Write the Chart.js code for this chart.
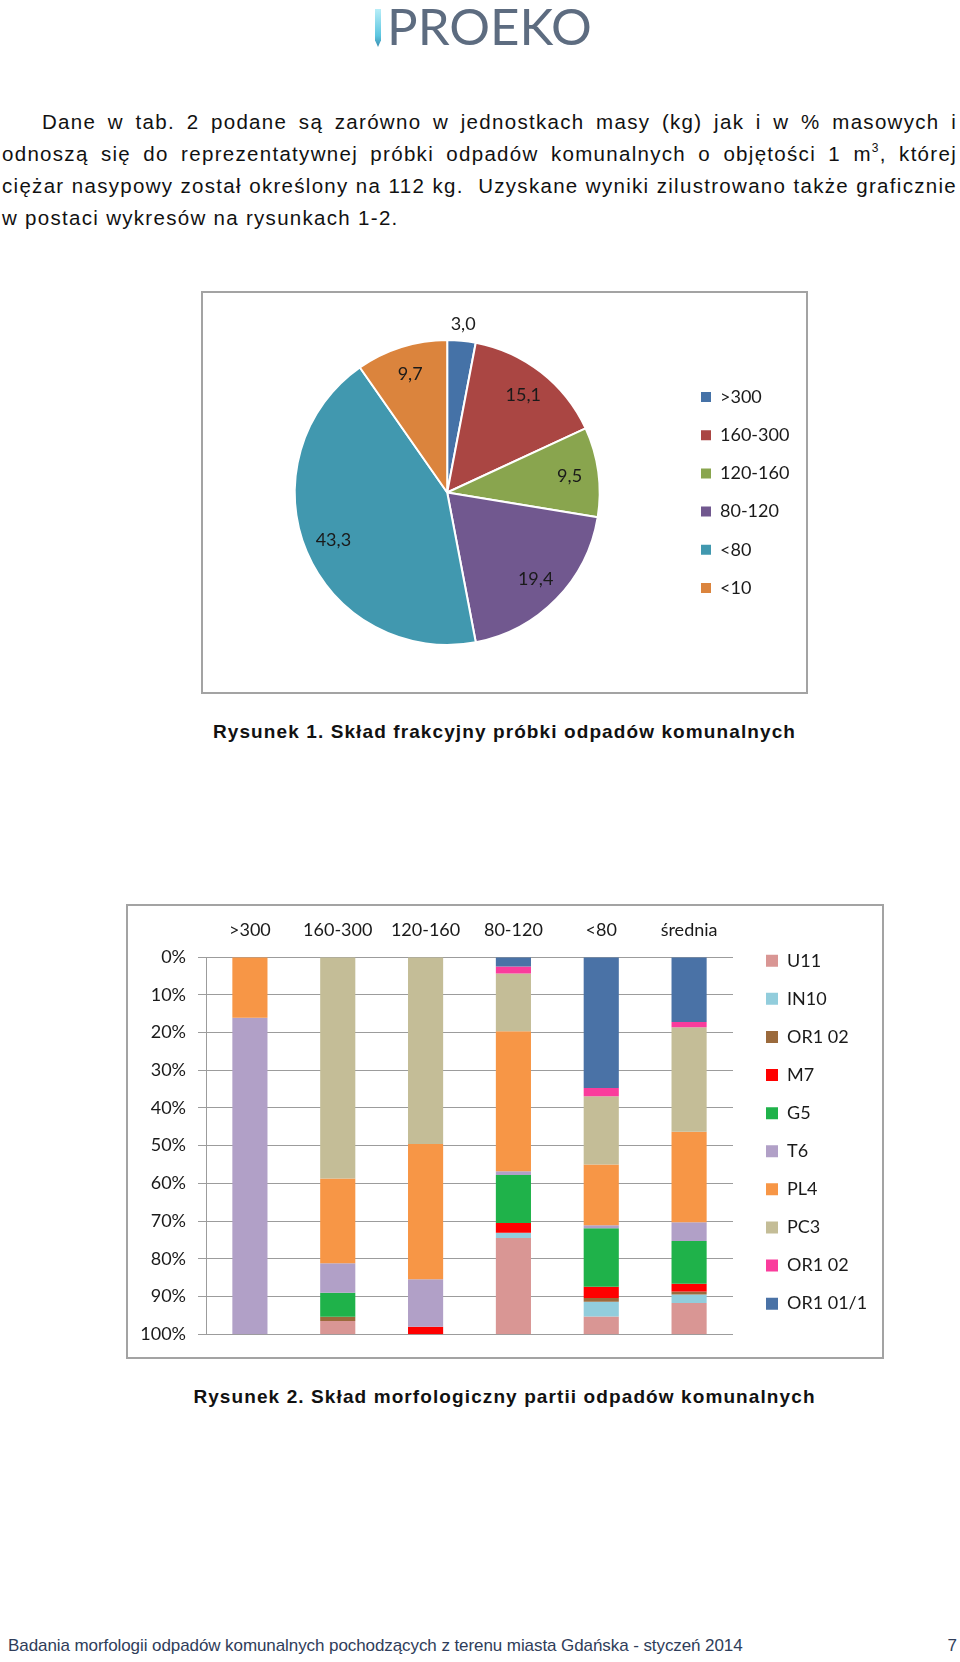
<!DOCTYPE html>
<html>
<head>
<meta charset="utf-8">
<script src="https://cdn.jsdelivr.net/npm/chart.js@4.4.0/dist/chart.umd.min.js"></script>
<style>
  body { margin: 0; width: 960px; height: 1662px; background: #fff; position: relative; overflow: hidden;
         font-family: "Liberation Sans", Arial, sans-serif; color: #111; }
  .logo { position: absolute; left: 375px; top: 0; height: 52px; }
  .logo .bar { position: absolute; left: 0; top: 9px; width: 6px; height: 38px;
               background: linear-gradient(#b8eef8, #5cc6e0 70%, #3a8db0);
               clip-path: polygon(0 0, 100% 0, 100% 82%, 50% 100%, 0 82%); }
  .logo .txt { position: absolute; left: 12px; top: 0; font-family: Lato, sans-serif; font-weight: 400; font-size: 51px; line-height: 51px;
               color: #5d6c80; white-space: nowrap; }
  .para { position: absolute; left: 2px; top: 106px; width: 955px; font-size: 20.5px; line-height: 32px; letter-spacing: 1.3px; }
  .para .j { text-align: justify; text-align-last: justify; white-space: nowrap; }
  .para .j.first { padding-left: 40px; }
  .para sup { font-size: 12px; line-height: 0; vertical-align: 9px; }
  .frame { position: absolute; box-sizing: border-box; border: 2px solid #a3a3a3; background: #fff; }
  .frame canvas { position: absolute; left: 0; top: 0; }
  .caption { position: absolute; left: 0; width: 1009px; text-align: center; font-weight: bold; font-size: 19px; line-height: 22px; letter-spacing: 1.1px; }
  .footer { position: absolute; left: 8px; top: 1636px; font-size: 17px; line-height: 20px; letter-spacing: -0.08px; color: #2f3d5a; white-space: nowrap; }
  .pageno { position: absolute; right: 3px; top: 1636px; font-size: 17px; line-height: 20px; color: #2f3d5a; }
</style>
</head>
<body>
<div class="logo"><div class="bar"></div><div class="txt">PROEKO</div></div>

<div class="para">
  <div class="j first">Dane w tab. 2 podane są zarówno w jednostkach masy (kg) jak i w % masowych i</div>
  <div class="j">odnoszą się do reprezentatywnej próbki odpadów komunalnych o objętości 1 m<sup>3</sup>, której</div>
  <div class="j">ciężar nasypowy został określony na 112 kg.&nbsp; Uzyskane wyniki zilustrowano także graficznie</div>
  <div>w postaci wykresów na rysunkach 1-2.</div>
</div>

<div class="frame" style="left:201px; top:291px; width:607px; height:403px;">
  <canvas id="pie" width="603" height="399"></canvas>
</div>
<div class="caption" style="top:721px;">Rysunek 1. Skład frakcyjny próbki odpadów komunalnych</div>

<div class="frame" style="left:126px; top:904px; width:758px; height:455px;">
  <canvas id="bars" width="754" height="451"></canvas>
</div>
<div class="caption" style="top:1386px;">Rysunek 2. Skład morfologiczny partii odpadów komunalnych</div>

<div class="footer">Badania morfologii odpadów komunalnych pochodzących z terenu miasta Gdańska - styczeń 2014</div>
<div class="pageno">7</div>

<script>
// Rysunek 1 - pie
const fractions = ['>300', '160-300', '120-160', '80-120', '<80', '<10'];
const fractionShare = [3.0, 15.1, 9.5, 19.4, 43.3, 9.7];
const fractionColors = ['#4572a7', '#aa4643', '#89a54e', '#71588f', '#4198af', '#db843d'];

// Rysunek 2 - stacked bars (0% at top)
const groups = ['>300', '160-300', '120-160', '80-120', '<80', 'średnia'];
const or1_01_1 = [0, 0, 0, 2.5, 34.7, 17.2];
const or1_02pink = [0, 0, 0, 1.9, 2.2, 1.4];
const pc3 = [0, 58.7, 49.6, 15.3, 18.1, 27.7];
const pl4 = [16.1, 22.5, 35.8, 37.1, 16.1, 24.0];
const t6 = [83.9, 7.8, 12.6, 1.0, 0.8, 5.0];
const g5 = [0, 6.4, 0, 12.7, 15.5, 11.3];
const m7 = [0, 0, 2.0, 2.6, 3.0, 2.1];
const or1_02brown = [0, 1.1, 0, 0, 1.0, 0.8];
const in10 = [0, 0, 0, 1.4, 3.9, 2.2];
const u11 = [0, 3.5, 0, 25.5, 4.8, 8.3];
const yTicks = [0, 10, 20, 30, 40, 50, 60, 70, 80, 90, 100];

const series = [
    { label: 'OR1 01/1', data: or1_01_1, color: '#4a72a6' },
    { label: 'OR1 02', data: or1_02pink, color: '#fa3c9c' },
    { label: 'PC3', data: pc3, color: '#c4bd97' },
    { label: 'PL4', data: pl4, color: '#f79646' },
    { label: 'T6', data: t6, color: '#b1a0c7' },
    { label: 'G5', data: g5, color: '#1fb24a' },
    { label: 'M7', data: m7, color: '#ff0000' },
    { label: 'OR1 02', data: or1_02brown, color: '#9b6a3c' },
    { label: 'IN10', data: in10, color: '#92cddc' },
    { label: 'U11', data: u11, color: '#d99694' },
];

const chartFont = { family: 'Lato', size: 18 };
const textColor = '#1a1a1a';

// legend with fixed width, nudged after layout
function legendBox(width, dx, dy) {
    return {
        id: 'legendBox',
        beforeInit(chart) {
            const legend = chart.legend;
            if (!legend) return;
            const fit = legend.fit;
            legend.fit = function () {
                fit.call(this);
                this.width = width;
            };
        },
        afterLayout(chart) {
            const legend = chart.legend;
            if (!legend) return;
            legend.left += dx; legend.right += dx;
            legend.top += dy; legend.bottom += dy;
        },
    };
}

const sliceLabels = {
    id: 'sliceLabels',
    afterDatasetsDraw(chart) {
        const ctx = chart.ctx;
        const values = chart.data.datasets[0].data;
        ctx.save();
        ctx.font = '18px Lato';
        ctx.fillStyle = textColor;
        ctx.textAlign = 'center';
        ctx.textBaseline = 'middle';
        chart.getDatasetMeta(0).data.forEach((arc, i) => {
            const p = arc.getProps(['x', 'y', 'startAngle', 'endAngle', 'outerRadius'], true);
            const mid = (p.startAngle + p.endAngle) / 2;
            const r = values[i] < 5 ? p.outerRadius + 17 : p.outerRadius * 0.81;
            ctx.fillText(values[i].toFixed(1).replace('.', ','), p.x + Math.cos(mid) * r, p.y + Math.sin(mid) * r);
        });
        ctx.restore();
    },
};

new Chart(document.getElementById('pie'), {
    type: 'pie',
    data: {
        labels: fractions,
        datasets: [{
            data: fractionShare,
            backgroundColor: fractionColors,
            borderColor: '#ffffff',
            borderWidth: 2,
        }],
    },
    options: {
        responsive: false,
        animation: false,
        layout: { padding: { left: 10.6, top: 46, bottom: 46, right: 0 } },
        plugins: {
            tooltip: { enabled: false },
            legend: {
                position: 'right',
                labels: {
                    boxWidth: 10,
                    boxHeight: 10,
                    padding: 20.2,
                    font: chartFont,
                    color: textColor,
                    generateLabels(chart) {
                        return Chart.overrides.doughnut.plugins.legend.labels.generateLabels(chart)
                            .map(l => Object.assign(l, { lineWidth: 0 }));
                    },
                },
            },
        },
    },
    plugins: [legendBox(125.2, 0, 0), sliceLabels],
});

new Chart(document.getElementById('bars'), {
    type: 'bar',
    data: {
        labels: groups,
        datasets: series.map(s => ({
            label: s.label,
            data: s.data,
            backgroundColor: s.color,
            barPercentage: 0.4,
            categoryPercentage: 1,
        })),
    },
    options: {
        responsive: false,
        animation: false,
        layout: { padding: { left: 0, top: 13.4, bottom: 22, right: 0 } },
        scales: {
            x: {
                position: 'top',
                stacked: true,
                grid: { display: false, drawTicks: false },
                border: { display: false },
                ticks: { padding: 16, font: chartFont, color: textColor },
                afterFit(scale) { scale.height = 37.6; },
            },
            y: {
                stacked: true,
                reverse: true,
                min: 0,
                max: 100,
                afterBuildTicks(scale) { scale.ticks = yTicks.map(v => ({ value: v })); },
                afterFit(scale) { scale.width = 78; },
                ticks: { padding: 12, font: chartFont, color: textColor, callback: v => v + '%' },
                grid: { color: '#9c9c9c', tickLength: 8 },
                border: { color: '#9c9c9c' },
            },
        },
        plugins: {
            tooltip: { enabled: false },
            legend: {
                position: 'right',
                reverse: true,
                labels: { boxWidth: 12, boxHeight: 12, padding: 20.1, font: chartFont, color: textColor },
            },
        },
    },
    plugins: [legendBox(149, 12.9, 5)],
});
</script>
</body>
</html>
